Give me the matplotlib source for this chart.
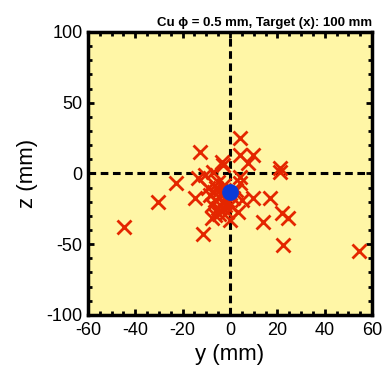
import matplotlib
matplotlib.use("Agg")
import matplotlib.pyplot as plt
from matplotlib.ticker import MultipleLocator

plt.rcParams['font.family'] = ['Liberation Sans', 'DejaVu Sans']
plt.rcParams['axes.unicode_minus'] = False

# hit positions (mm)
y_hits = [-44.8, -30.3, -22.8, -12.7, -11.3, -14.8, -13.4, -10.6, -7.2, -4.9,
          -2.8, -3.5, 4.2, 4.2, 9.8, 7.7, 21.1, 21.1, 4.2, 4.2,
          9.8, 16.9, 14.1, 21.8, 24.6, 22.5, 4.9, 3.4, -7.7, -6.3,
          54.5, -8.4, -6.3, -4.2, -2.1, -5.1, -3.4, -1.3, -7.6, 0.0,
          -2.5, 1.3, -9.3, -5.9, -1.7, -4.6, 0.0, 2.5, -3.0, -6.8]
z_hits = [-37.6, -20.4, -6.9, 15.4, -42.8, -17.5, -3.4, -1.1, 1.3, -5.8,
          6.0, 8.3, 24.9, 13.1, 13.1, 7.2, 3.7, 1.3, -2.3, -6.9,
          -17.5, -17.5, -34.1, -28.1, -31.7, -50.5, -18.7, -27.0, -31.4, -29.3,
          -54.8, -15.2, -18.7, -11.7, -22.3, -24.4, -15.2, -27.2, -22.3, -22.3,
          -8.1, -17.3, -10.2, -10.2, -18.7, -28.6, -32.9, -11.7, -19.5, -13.0]
y_center = [0.0]
z_center = [-13.0]

fig = plt.figure(figsize=(3.84, 3.67), dpi=100)
ax = fig.add_axes([0.229, 0.142, 0.740, 0.771])
ax.set_facecolor('#FFF6A6')

ax.axhline(0, color='black', lw=2.2, ls=(0, (2.5, 1.5)), zorder=1)
ax.axvline(0, color='black', lw=2.2, ls=(0, (2.5, 1.5)), zorder=1)

ax.plot(y_hits, z_hits, ls='none', marker='x', ms=9.5, mew=2.0,
        color='#E42600', zorder=2)
ax.plot(y_center, z_center, ls='none', marker='o', ms=11,
        color='#0B3BD8', zorder=3)

ax.set_xlim(-60, 60)
ax.set_ylim(-100, 100)
ax.xaxis.set_major_locator(MultipleLocator(20))
ax.xaxis.set_minor_locator(MultipleLocator(5))
ax.yaxis.set_major_locator(MultipleLocator(50))
ax.yaxis.set_minor_locator(MultipleLocator(10))
ax.tick_params(which='both', direction='in', top=True, right=True,
               width=2, labelsize=13)
ax.tick_params(axis='x', pad=5)
ax.tick_params(axis='y', pad=4)
ax.tick_params(which='major', length=4)
ax.tick_params(which='minor', length=3)
for s in ax.spines.values():
    s.set_linewidth(2.5)

ax.set_xlabel('y (mm)', fontsize=16, labelpad=4)
ax.set_ylabel('z (mm)', fontsize=16, labelpad=6)
ax.set_title('Cu \u03d5 = 0.5 mm, Target (x): 100 mm', fontsize=9.5,
             fontweight='bold', loc='right', pad=4)

fig.savefig('out.png', dpi=100)
